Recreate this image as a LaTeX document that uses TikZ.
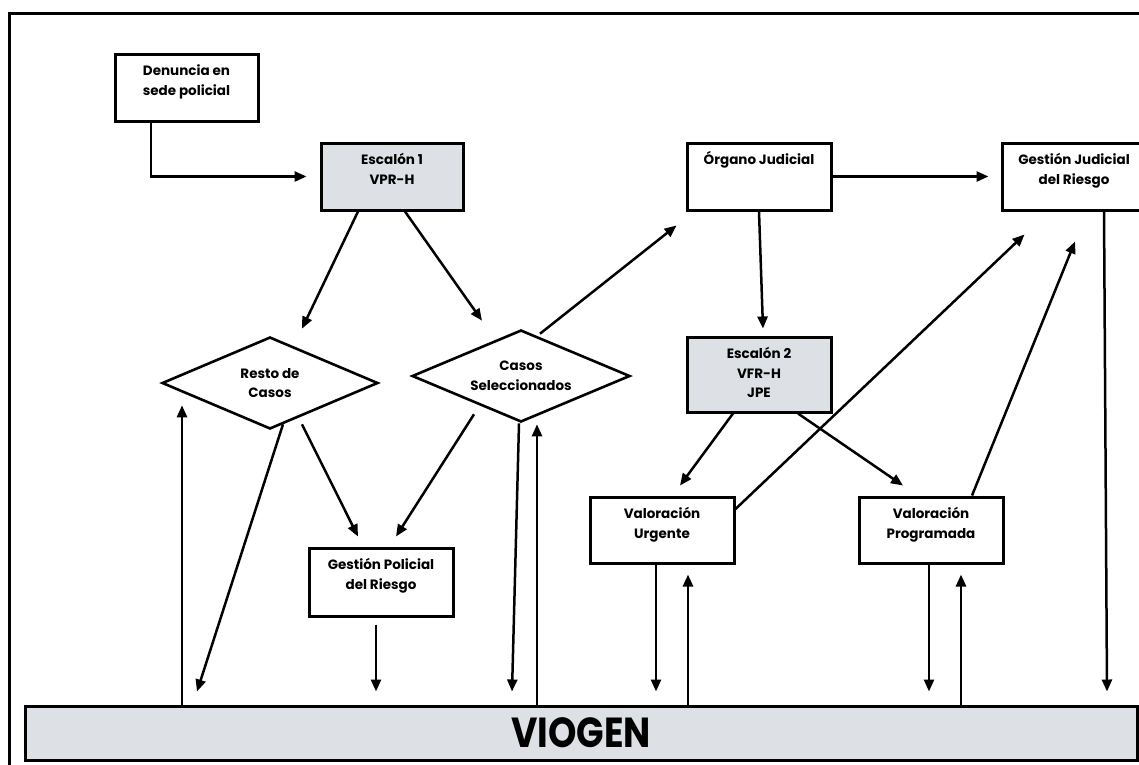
\documentclass[tikz,border=0pt]{standalone}
\usepackage{fontspec}
\setmainfont{Poppins}
\usetikzlibrary{arrows.meta,shapes.geometric}
\definecolor{boxgray}{RGB}{221,224,228}
\newcommand\tb[2]{\parbox[c][#1pt][t]{140pt}{\centering\rule{0pt}{21.5pt}#2}}
\begin{document}
\begin{tikzpicture}[x=1pt,y=-1pt,
  every node/.style={font=\fontsize{13.5}{19.5}\selectfont\bfseries},
  stepbox/.style={draw, line width=3pt, inner sep=0pt, minimum width=144pt, align=center},
  graybox/.style={stepbox, fill=boxgray},
  dmd/.style={draw, line width=2.6pt, diamond, aspect=2.35, inner sep=0pt,
              minimum width=216pt, minimum height=92pt, align=center},
  arr/.style={line width=2.5pt, -{Triangle[length=12pt,width=10pt]}}]
\useasboundingbox (0,0) rectangle (1139,764);
\draw[line width=3.4pt] (9.5,13.5) rectangle (1160,790);

\node[stepbox, minimum width=143pt] (den) at (186.5,87.5) {\tb{67}{Denuncia en\\sede policial}};
\node[graybox, minimum width=142pt] (esc1) at (392,176.5) {\tb{67}{Escalón 1\\VPR-H}};
\node[stepbox] (org) at (759,176.5) {\tb{67}{Órgano Judicial}};
\node[stepbox] (gju) at (1074,176.5) {\tb{67}{Gestión Judicial\\del Riesgo}};
\node[dmd] (resto) at (270,383) {Resto de\\Casos};
\node[dmd, minimum width=218pt] (sel) at (521,376) {Casos\\Seleccionados};
\node[graybox] (esc2) at (759,374.5) {\tb{75}{Escalón 2\\VFR-H\\JPE}};
\node[stepbox] (vurg) at (662,530) {\tb{66}{Valoración\\Urgente}};
\node[stepbox] (vprog) at (931,530) {\tb{66}{Valoración\\Programada}};
\node[stepbox] (gpol) at (381,582) {\tb{68}{Gestión Policial\\del Riesgo}};
\node[draw, line width=3pt, fill=boxgray, minimum width=1112pt, minimum height=54pt, inner sep=0pt,
      font=\fontsize{42}{42}\selectfont\bfseries] (viogen) at (581,733) {\scalebox{0.86}[1]{VIOGEN}};

% top row
\draw[arr] ([xshift=-35.5pt]den.south) |- ([xshift=-13pt]esc1.west);
\draw[arr] ([xshift=-34pt]esc1.south) -- ([xshift=32pt,yshift=7pt]resto.north);
\draw[arr] ([xshift=13pt]esc1.south) -- ([xshift=-39pt,yshift=8pt]sel.north);
\draw[arr] ([xshift=19pt,yshift=-5pt]sel.north) -- ([xshift=-9pt,yshift=-14pt]org.south west);
\draw[arr] (org.east) -- ([xshift=-12pt]gju.west);
\draw[arr] (org.south) -- ([xshift=4pt,yshift=7pt]esc2.north);
\draw[arr] ([xshift=30pt]gju.south) -- ([xshift=526pt,yshift=13pt]viogen.north);
% escalon 2
\draw[arr] ([xshift=-26pt]esc2.south) -- ([xshift=18pt,yshift=10pt]vurg.north);
\draw[arr] ([xshift=39pt]esc2.south) -- ([xshift=-28pt,yshift=10pt]vprog.north);
\draw[arr] ([yshift=21pt]vurg.east) -- ([xshift=24pt,yshift=-23pt]gju.south west);
\draw[arr] ([xshift=41pt]vprog.north) -- ([xshift=1pt,yshift=-30pt]gju.south);
% diamonds
\draw[arr] ([xshift=13pt,yshift=6pt]resto.south) -- ([xshift=-384pt,yshift=13pt]viogen.north);
\draw[arr] ([xshift=-399pt]viogen.north) -- ([xshift=-88pt,yshift=25pt]resto.south);
\draw[arr] ([xshift=32pt,yshift=6pt]resto.south) -- ([xshift=-23pt,yshift=10pt]gpol.north);
\draw[arr] ([xshift=-47pt,yshift=9pt]sel.south) -- ([xshift=15pt,yshift=10pt]gpol.north);
\draw[arr] ([xshift=-2pt]sel.south) -- ([xshift=-69pt,yshift=13pt]viogen.north);
\draw[arr] ([xshift=-44pt]viogen.north) -- ([xshift=16pt,yshift=-1pt]sel.south);
% to/from viogen
\draw[arr] ([xshift=-5pt,yshift=-7pt]gpol.south) -- ([xshift=-205pt,yshift=13pt]viogen.north);
\draw[arr] ([xshift=-6pt]vurg.south) -- ([xshift=75pt,yshift=13pt]viogen.north);
\draw[arr] ([xshift=107pt]viogen.north) -- ([xshift=26pt,yshift=-10pt]vurg.south);
\draw[arr] ([xshift=-2pt]vprog.south) -- ([xshift=348pt,yshift=13pt]viogen.north);
\draw[arr] ([xshift=380pt]viogen.north) -- ([xshift=30pt,yshift=-10pt]vprog.south);
\end{tikzpicture}
\end{document}
